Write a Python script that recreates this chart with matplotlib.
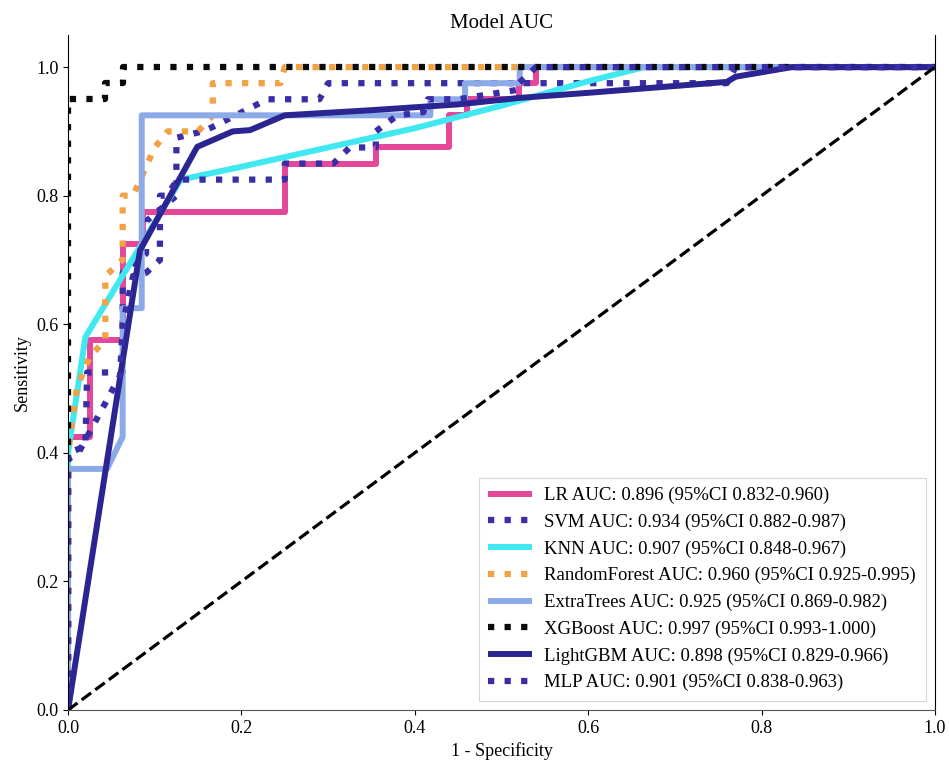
import matplotlib
matplotlib.use("Agg")
import matplotlib.pyplot as plt

plt.rcParams['font.family'] = ['Liberation Serif', 'DejaVu Serif']

# ---- data ----
lr_fpr = [0, 0, 0.025, 0.025, 0.063, 0.063, 0.087, 0.087, 0.25, 0.25, 0.355, 0.355, 0.44, 0.44, 0.46, 0.46, 0.52, 0.52, 0.54, 0.54, 1]
lr_tpr = [0, 0.425, 0.425, 0.575, 0.575, 0.725, 0.725, 0.775, 0.775, 0.85, 0.85, 0.875, 0.875, 0.925, 0.925, 0.95, 0.95, 0.975, 0.975, 1, 1]

svm_fpr = [0, 0, 0.02, 0.022, 0.063, 0.063, 0.08, 0.09, 0.09, 0.125, 0.125, 0.155, 0.167, 0.23, 0.29, 0.3, 0.76, 0.77, 1]
svm_tpr = [0, 0.4, 0.41, 0.525, 0.525, 0.68, 0.7, 0.71, 0.76, 0.8, 0.89, 0.9, 0.907, 0.95, 0.95, 0.975, 0.975, 1, 1]

knn_fpr = [0, 0, 0.02, 0.13, 0.2, 0.3, 0.4, 0.5, 0.6, 0.665, 1]
knn_tpr = [0, 0.4, 0.58, 0.825, 0.845, 0.875, 0.905, 0.94, 0.978, 1, 1]

rf_fpr = [0, 0, 0.01, 0.025, 0.043, 0.043, 0.063, 0.063, 0.075, 0.1, 0.115, 0.15, 0.167, 0.167, 0.245, 0.25, 1]
rf_tpr = [0, 0.4, 0.5, 0.55, 0.575, 0.675, 0.7, 0.8, 0.8, 0.875, 0.9, 0.9, 0.925, 0.975, 0.975, 1, 1]

et_fpr = [0, 0, 0.045, 0.063, 0.063, 0.085, 0.085, 0.418, 0.418, 0.458, 0.458, 0.521, 0.521, 1]
et_tpr = [0, 0.375, 0.375, 0.425, 0.625, 0.625, 0.925, 0.925, 0.95, 0.95, 0.975, 0.975, 1, 1]

xgb_fpr = [0, 0, 0.043, 0.043, 0.063, 0.063, 1]
xgb_tpr = [0, 0.95, 0.95, 0.975, 0.975, 1, 1]

lgb_fpr = [0, 0.083, 0.149, 0.19, 0.21, 0.25, 0.35, 0.45, 0.52, 0.6, 0.76, 0.77, 0.835, 1]
lgb_tpr = [0, 0.715, 0.876, 0.9, 0.902, 0.925, 0.933, 0.942, 0.952, 0.96, 0.977, 0.985, 1, 1]

mlp_fpr = [0, 0, 0.012, 0.06, 0.063, 0.075, 0.09, 0.106, 0.106, 0.114, 0.126, 0.25, 0.25, 0.306, 0.325, 0.355, 0.355, 0.38, 0.41, 0.415, 0.45, 0.52, 0.52, 0.54, 1]
mlp_tpr = [0, 0.39, 0.4, 0.52, 0.6, 0.675, 0.68, 0.7, 0.8, 0.8, 0.825, 0.825, 0.85, 0.85, 0.875, 0.875, 0.9, 0.925, 0.93, 0.95, 0.95, 0.965, 0.975, 1, 1]

labels = [
    "LR AUC: 0.896 (95%CI 0.832-0.960)",
    "SVM AUC: 0.934 (95%CI 0.882-0.987)",
    "KNN AUC: 0.907 (95%CI 0.848-0.967)",
    "RandomForest AUC: 0.960 (95%CI 0.925-0.995)",
    "ExtraTrees AUC: 0.925 (95%CI 0.869-0.982)",
    "XGBoost AUC: 0.997 (95%CI 0.993-1.000)",
    "LightGBM AUC: 0.898 (95%CI 0.829-0.966)",
    "MLP AUC: 0.901 (95%CI 0.838-0.963)",
]

series = [
    (lr_fpr, lr_tpr, "#e5479b", "-"),
    (svm_fpr, svm_tpr, "#3a2ea6", ":"),
    (knn_fpr, knn_tpr, "#40e8f2", "-"),
    (rf_fpr, rf_tpr, "#f0a244", ":"),
    (et_fpr, et_tpr, "#8caae8", "-"),
    (xgb_fpr, xgb_tpr, "#0a0a0a", ":"),
    (lgb_fpr, lgb_tpr, "#2a2590", "-"),
    (mlp_fpr, mlp_tpr, "#3a2ea6", ":"),
]

fig = plt.figure(figsize=(9.49, 7.65), dpi=100)
ax = fig.add_axes([0.0717, 0.0719, 0.9135, 0.8824])

for (fx, fy, c, ls), lab in zip(series, labels):
    ax.plot(fx, fy, color=c, linestyle=ls, lw=4.3 if ls == "-" else 4.5,
            label=lab, solid_capstyle="butt")

ax.plot([0, 1], [0, 1], color="black", linestyle="--", lw=2.3)

ax.set_xlim(0, 1)
ax.set_ylim(0, 1.05)
ax.set_xticks([0, 0.2, 0.4, 0.6, 0.8, 1.0])
ax.set_yticks([0, 0.2, 0.4, 0.6, 0.8, 1.0])
ax.tick_params(labelsize=13)
ax.set_xlabel("1 - Specificity", fontsize=13)
ax.set_ylabel("Sensitivity", fontsize=13)
ax.set_title("Model AUC", fontsize=15, pad=5)

ax.spines["top"].set_visible(False)
ax.spines["bottom"].set_color("#555555")

leg = ax.legend(loc="lower right", fontsize=13.5, frameon=True, fancybox=False,
                edgecolor="#cccccc", handlelength=2.35, handletextpad=0.65,
                borderpad=0.5, labelspacing=0.5)
leg.get_frame().set_linewidth(0.8)

fig.savefig("out.png", dpi=100)
